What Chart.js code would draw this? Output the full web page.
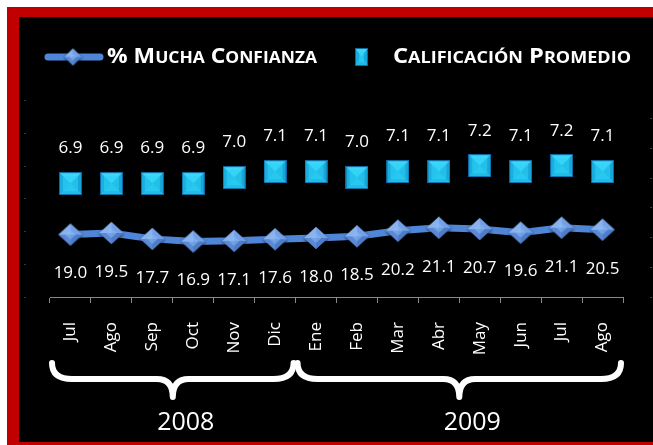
<!DOCTYPE html>
<html><head><meta charset="utf-8">
<script src="https://cdn.jsdelivr.net/npm/chart.js@4"></script>
<style>html,body{margin:0;padding:0;background:#fff;}canvas{display:block}</style>
</head><body>
<canvas id="c" width="653" height="445"></canvas>
<script>
// ---- data ----
const months = ['Jul','Ago','Sep','Oct','Nov','Dic','Ene','Feb','Mar','Abr','May','Jun','Jul','Ago'];
const muchaConfianza = [19.0,19.5,17.7,16.9,17.1,17.6,18.0,18.5,20.2,21.1,20.7,19.6,21.1,20.5];
const calificacion = [6.9,6.9,6.9,6.9,7.0,7.1,7.1,7.0,7.1,7.1,7.2,7.1,7.2,7.1];
const seriesNames = ['% Mucha Confianza','Calificación Promedio'];
const yearLabels = ['2008','2009'];
const yearFirst = [0,6];
const yearLast = [5,13];
const leftTicks = [0,10,20,30,40,50,60];
const rightTicks = [5,5.5,6,6.5,7,7.5,8];
const rightAxisMax = 8.3;

// ---- sprites ----
function makeDiamond(w,h){
  const c=document.createElement('canvas'); c.width=w+4; c.height=h+4;
  const g=c.getContext('2d'); const cx=c.width/2, cy=c.height/2, hw=w/2, hh=h/2;
  g.shadowColor='rgba(0,0,0,0.7)'; g.shadowBlur=3; g.shadowOffsetY=1;
  g.beginPath(); g.moveTo(cx-hw,cy); g.lineTo(cx,cy-hh); g.lineTo(cx+hw,cy); g.lineTo(cx,cy+hh); g.closePath();
  g.fillStyle='#5f8fdc'; g.fill();
  g.shadowColor='transparent';
  const tri=(a,b,col)=>{g.beginPath();g.moveTo(a[0],a[1]);g.lineTo(b[0],b[1]);g.lineTo(cx,cy);g.closePath();g.fillStyle=col;g.fill();};
  const L=[cx-hw,cy],T=[cx,cy-hh],R=[cx+hw,cy],B=[cx,cy+hh];
  tri(L,T,'#8ab3ee'); tri(T,R,'#73a0e6'); tri(R,B,'#4d7cc8'); tri(B,L,'#5b89d6');
  g.beginPath(); g.moveTo(cx-hw*0.45,cy); g.lineTo(cx,cy-hh*0.45); g.lineTo(cx+hw*0.45,cy); g.lineTo(cx,cy+hh*0.45); g.closePath();
  g.fillStyle='rgba(140,185,245,0.55)'; g.fill();
  return c;
}
function makeSquare(w,h){
  const c=document.createElement('canvas'); c.width=w; c.height=h;
  const g=c.getContext('2d'); const cx=w/2, cy=h/2;
  g.fillStyle='#22c4ee'; g.fillRect(0,0,w,h);
  const tri=(a,b,col)=>{g.beginPath();g.moveTo(a[0],a[1]);g.lineTo(b[0],b[1]);g.lineTo(cx,cy);g.closePath();g.fillStyle=col;g.fill();};
  tri([0,0],[w,0],'#3dd6f6'); tri([w,0],[w,h],'#18a6da'); tri([w,h],[0,h],'#1fbce9'); tri([0,h],[0,0],'#1aaee0');
  g.fillStyle='rgba(45,212,245,0.55)'; g.fillRect(4,4,w-8,h-8);
  g.strokeStyle='rgba(12,95,150,0.9)'; g.lineWidth=1; g.strokeRect(0.5,0.5,w-1,h-1);
  return c;
}
const diamondImg = makeDiamond(24,22);
const squareImg = makeSquare(23,23);
const legendDiamond = makeDiamond(17,17);
const legendSquare = makeSquare(13,18);

// ---- plugins ----
const framePlugin = {
  id:'frame',
  beforeDraw(chart){
    const ctx=chart.ctx;
    ctx.save();
    ctx.fillStyle='#ffffff'; ctx.fillRect(0,0,653,445);
    ctx.fillStyle='#c00000'; ctx.fillRect(7,7,646,438);
    ctx.fillStyle='#000000'; ctx.fillRect(19,17,634,425);
    ctx.restore();
  }
};

function drawSmallCaps(ctx, text, x, baseline, big, small, targetW){
  const runs=[];
  for(const ch of text){
    const sm = ch !== ch.toUpperCase();
    const t = ch.toUpperCase();
    if(runs.length && runs[runs.length-1].sm===sm) runs[runs.length-1].t+=t; else runs.push({sm,t});
  }
  let total=0;
  for(const r of runs){ ctx.font = 'bold '+(r.sm?small:big)+'px "Open Sans"'; r.w=ctx.measureText(r.t).width; total+=r.w; }
  const s = targetW/total;
  ctx.save(); ctx.translate(x,baseline); ctx.scale(s,1);
  ctx.fillStyle='#ffffff'; ctx.textBaseline='alphabetic'; ctx.textAlign='left';
  let cx=0;
  for(const r of runs){ ctx.font='bold '+(r.sm?small:big)+'px "Open Sans"'; ctx.fillText(r.t,cx,0); cx+=r.w; }
  ctx.restore();
}

const legendPlugin = {
  id:'customLegend',
  afterDraw(chart){
    const ctx=chart.ctx;
    ctx.save();
    ctx.strokeStyle='#4f86d8'; ctx.lineWidth=7; ctx.lineCap='round';
    ctx.beginPath(); ctx.moveTo(48,57); ctx.lineTo(100,57); ctx.stroke();
    ctx.drawImage(legendDiamond, 73-legendDiamond.width/2, 57-legendDiamond.height/2);
    drawSmallCaps(ctx, chart.data.datasets[0].label, 107, 63, 21, 16, 210);
    ctx.drawImage(legendSquare, 355, 48);
    drawSmallCaps(ctx, chart.data.datasets[1].label, 393, 63, 21, 16, 238);
    ctx.restore();
  }
};

const labelPlugin = {
  id:'valueLabels',
  afterDatasetsDraw(chart){
    const ctx=chart.ctx;
    ctx.save();
    ctx.fillStyle='#ffffff'; ctx.font='17px "Open Sans"'; ctx.textAlign='center'; ctx.textBaseline='middle';
    const offsets=[39,-35];
    chart.data.datasets.forEach((ds,di)=>{
      chart.getDatasetMeta(di).data.forEach((el,i)=>{
        ctx.fillText(ds.data[i].toFixed(1), el.x, el.y+offsets[di]);
      });
    });
    ctx.restore();
  }
};

const bracePlugin = {
  id:'braces',
  afterDraw(chart){
    const ctx=chart.ctx, xs=chart.scales.x;
    const half = (xs.getPixelForValue(1)-xs.getPixelForValue(0))/2;
    const y0=363, y1=379, y2=397;
    ctx.save();
    ctx.strokeStyle='#ffffff'; ctx.lineWidth=6; ctx.lineCap='round'; ctx.lineJoin='round';
    yearLabels.forEach((lab,k)=>{
      const xa = xs.getPixelForValue(yearFirst[k]) - half + 2;
      const xb = xs.getPixelForValue(yearLast[k]) + half - 2;
      const mid=(xa+xb)/2, r=20, r2=16;
      ctx.beginPath();
      ctx.moveTo(xa,y0);
      ctx.quadraticCurveTo(xa,y1,xa+r,y1);
      ctx.lineTo(mid-r2,y1);
      ctx.quadraticCurveTo(mid,y1,mid,y2);
      ctx.quadraticCurveTo(mid,y1,mid+r2,y1);
      ctx.lineTo(xb-r,y1);
      ctx.quadraticCurveTo(xb,y1,xb,y0);
      ctx.stroke();
      ctx.fillStyle='#ffffff'; ctx.font='25px "Open Sans"'; ctx.textAlign='center'; ctx.textBaseline='middle';
      ctx.fillText(lab, mid+13, 423);
    });
    ctx.restore();
  }
};

new Chart(document.getElementById('c'), {
  type:'line',
  data:{
    labels: months,
    datasets:[
      { label: seriesNames[0], data: muchaConfianza, yAxisID:'y',
        borderColor:'#4f86d8', borderWidth:7, pointStyle: diamondImg, pointRadius:12, tension:0 },
      { label: seriesNames[1], data: calificacion, yAxisID:'y1', showLine:false,
        pointStyle: squareImg, pointRadius:12 }
    ]
  },
  options:{
    responsive:false, devicePixelRatio:1, animation:false,
    layout:{ padding:{ left:19, right:0, top:100, bottom:0 } },
    plugins:{ legend:{display:false}, tooltip:{enabled:false} },
    scales:{
      x:{
        offset:true,
        grid:{ display:true, drawOnChartArea:false, drawTicks:true, tickLength:6, color:'#8a8a8a', offset:true },
        border:{ display:true, color:'#8a8a8a', width:1 },
        ticks:{ color:'#ffffff', font:{ family:'"Open Sans"', size:17 }, minRotation:90, maxRotation:90, autoSkip:false, padding:19 },
        afterFit(s){ s.height = 148; }
      },
      y:{
        position:'left', min: leftTicks[0], max: leftTicks[leftTicks.length-1],
        grid:{ display:false }, border:{ display:false },
        ticks:{ stepSize: leftTicks[1]-leftTicks[0], color:'#777', font:{size:7}, padding:16, callback:()=>'-' },
        afterFit(s){ s.width = 31; }
      },
      y1:{
        position:'right', min: rightTicks[0], max: rightAxisMax,
        grid:{ display:false }, border:{ display:false },
        ticks:{ stepSize: rightTicks[1]-rightTicks[0], includeBounds:false, color:'#777', font:{size:7}, padding:19, callback:()=>'-' },
        afterFit(s){ s.width = 30; }
      }
    }
  },
  plugins:[framePlugin, labelPlugin, legendPlugin, bracePlugin]
});
</script>
</body></html>
